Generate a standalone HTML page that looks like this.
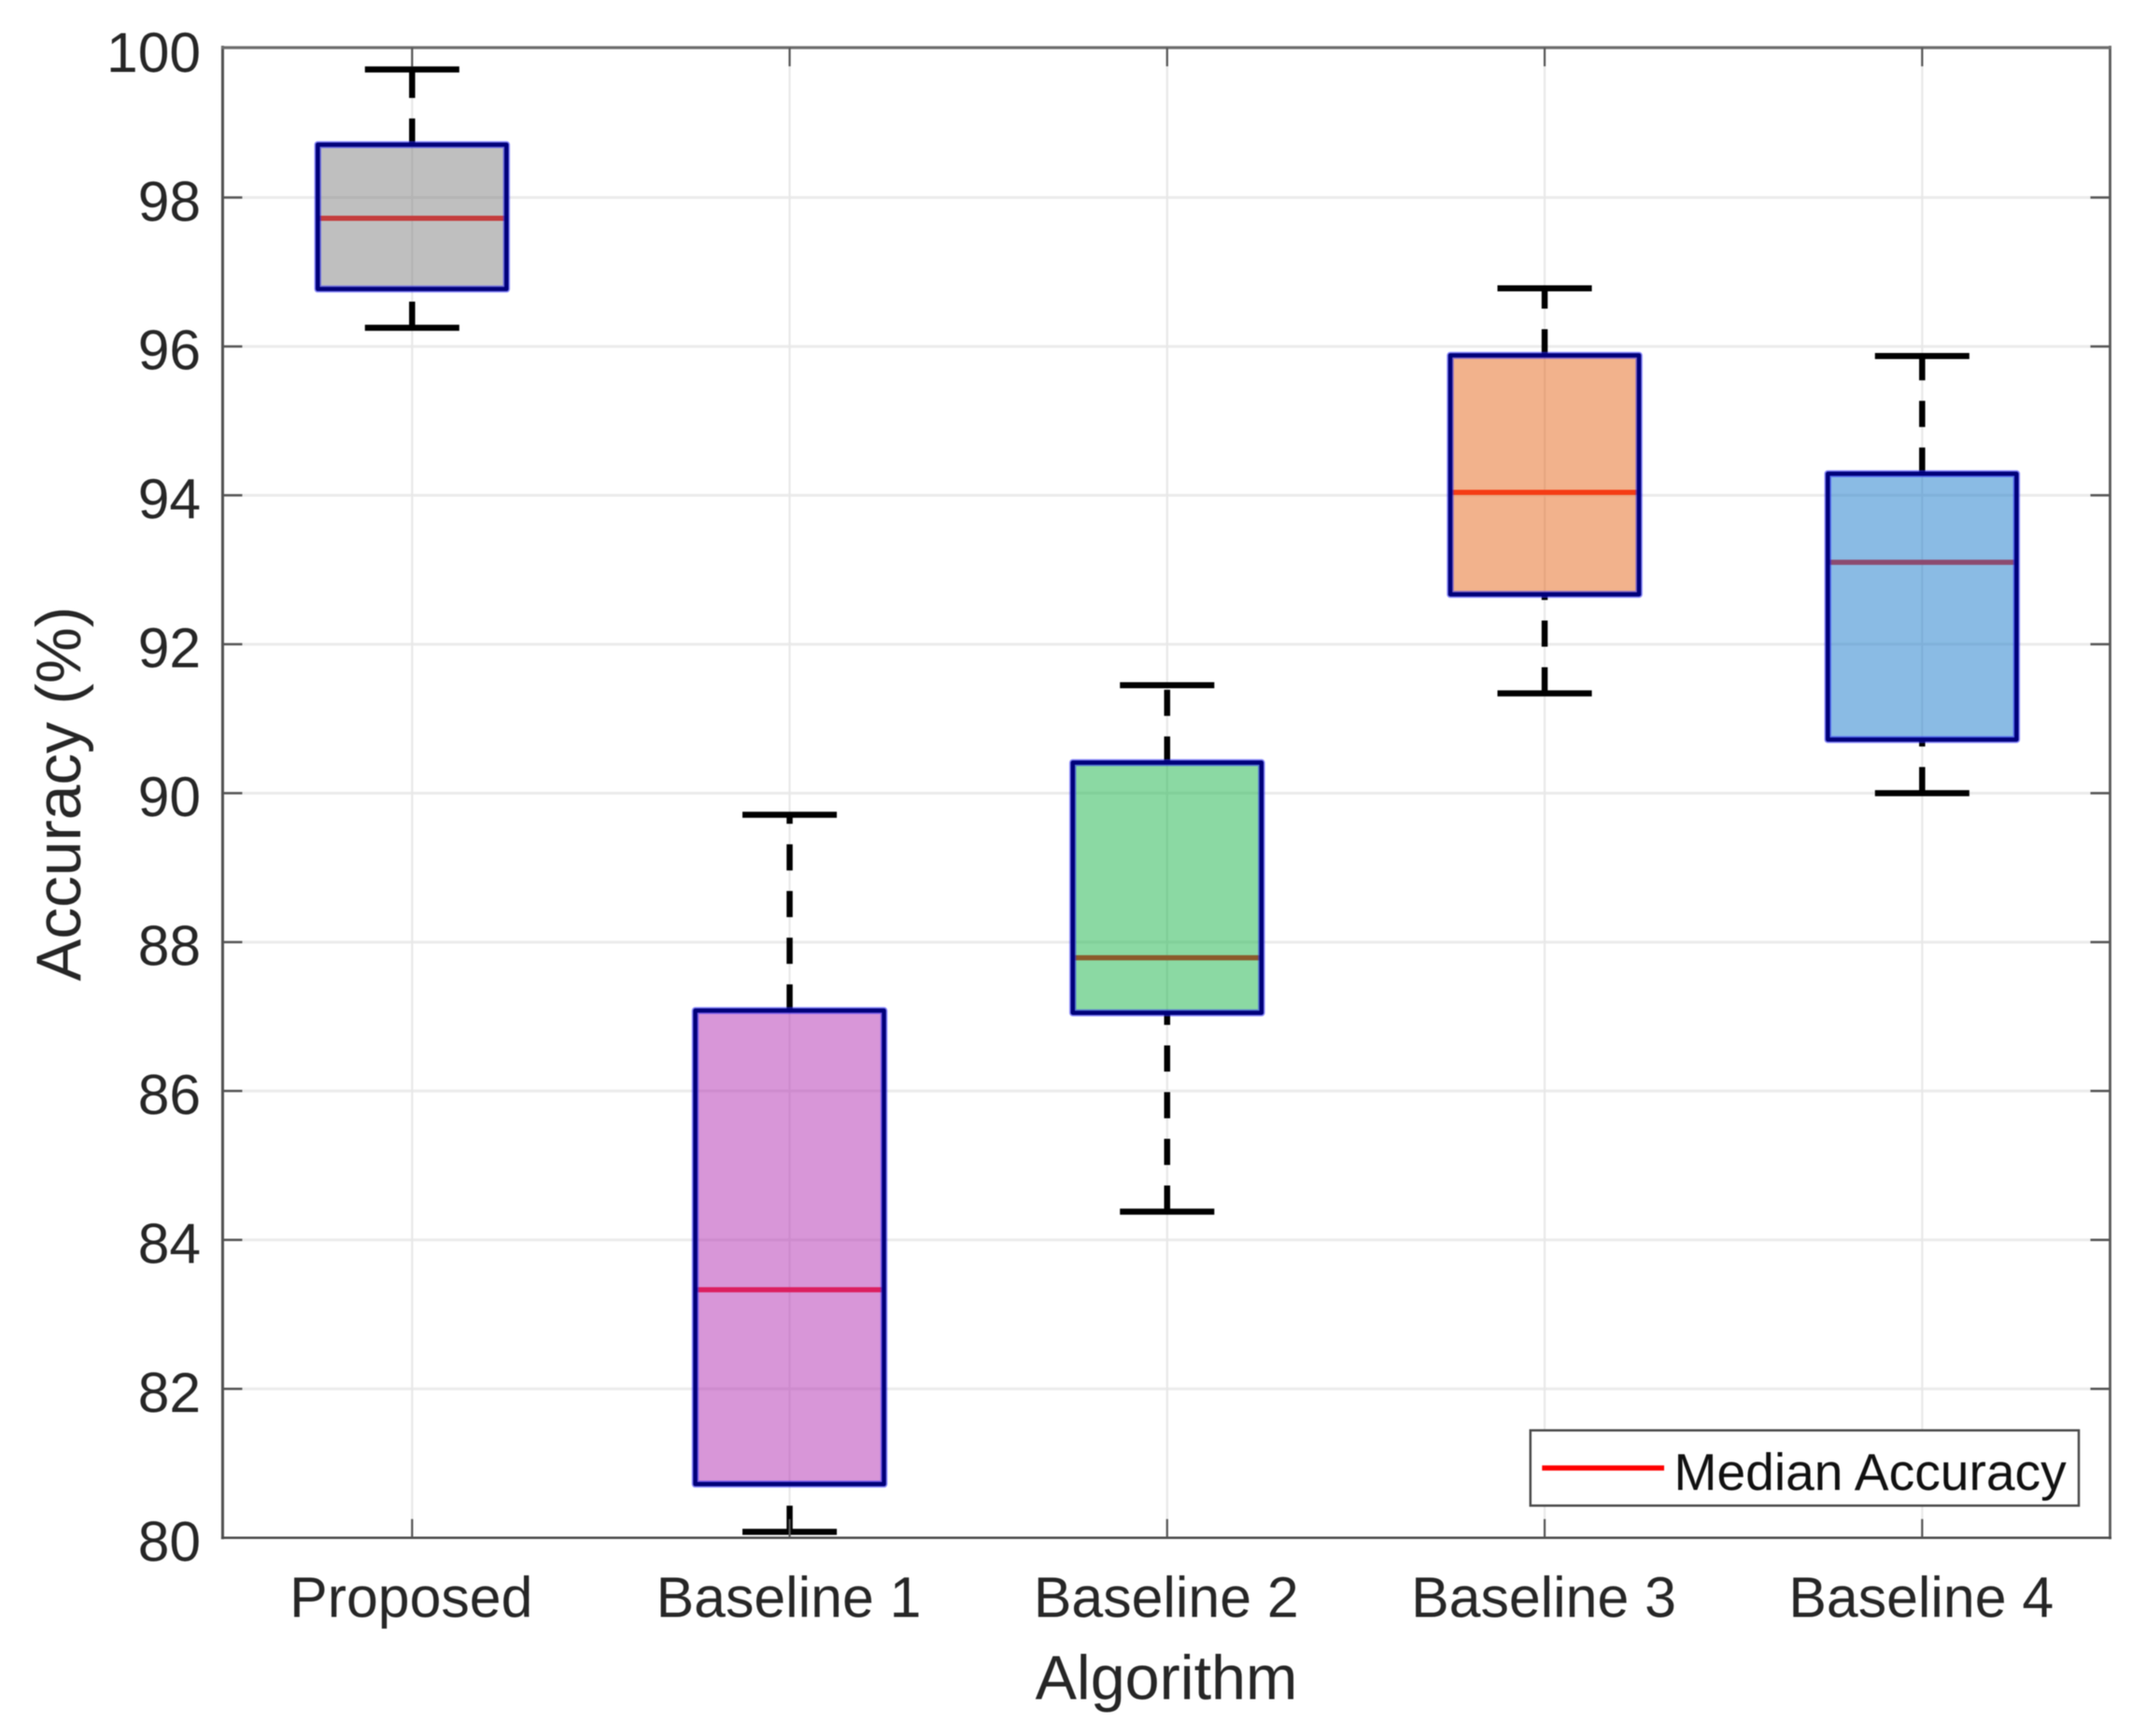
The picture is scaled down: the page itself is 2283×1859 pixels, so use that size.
<!DOCTYPE html>
<html lang="en">
<head>
<meta charset="utf-8">
<title>Accuracy by Algorithm</title>
<style>
  html, body { margin: 0; padding: 0; background: #ffffff; }
  body { width: 2283px; height: 1859px; overflow: hidden; }
  svg { display: block; filter: blur(0.6px); }
  text { font-family: "Liberation Sans", Arial, sans-serif; }
</style>
</head>
<body>
<svg id="chart" xmlns="http://www.w3.org/2000/svg" width="2283" height="1859" viewBox="0 0 2283 1859"></svg>
<script>
const categories = ['Proposed', 'Baseline 1', 'Baseline 2', 'Baseline 3', 'Baseline 4'];
const whiskerLow = [96.25, 80.08, 84.38, 91.34, 90.0];
const quartile1 = [96.77, 80.72, 87.05, 92.67, 90.72];
const medians = [97.72, 83.33, 87.79, 94.04, 93.10];
const quartile3 = [98.71, 87.08, 90.41, 95.88, 94.29];
const whiskerHigh = [99.72, 89.71, 91.45, 96.78, 95.87];
const yTicks = [80, 82, 84, 86, 88, 90, 92, 94, 96, 98, 100];
const boxFills = ['#7f7f7f', '#b12db1', '#17b347', '#e56519', '#1577c9'];
const medianColors = ['#c43c3c', '#dc1e5f', '#8b5a2b', '#f53c14', '#8c4a70'];
const xLabelText = 'Algorithm';
const yLabelText = 'Accuracy (%)';
const legendText = 'Median Accuracy';

const svg = document.getElementById('chart');
const NS = 'http://www.w3.org/2000/svg';
const plot = { left: 238.4, right: 2259.5, top: 51, bottom: 1646.7 };
const yMin = 80, yMax = 100;
const yTopPx = 52;

function xScale(position) {
  return 441.3 + (position - 1) * 404.25;
}
function yScale(value) {
  return plot.bottom - (value - yMin) * (plot.bottom - yTopPx) / (yMax - yMin);
}
function make(tag, attrs, content) {
  const el = document.createElementNS(NS, tag);
  for (const key in attrs) el.setAttribute(key, attrs[key]);
  if (content !== undefined) el.textContent = content;
  svg.appendChild(el);
  return el;
}
function hLine(x1, x2, y, stroke, width) {
  return make('line', { x1: x1, x2: x2, y1: y, y2: y, stroke: stroke, 'stroke-width': width });
}
function vLine(x, y1, y2, stroke, width) {
  return make('line', { x1: x, x2: x, y1: y1, y2: y2, stroke: stroke, 'stroke-width': width });
}

/* grid */
yTicks.forEach(function (tick) {
  if (tick === yMin || tick === yMax) return;
  const el = hLine(plot.left, plot.right, yScale(tick), '#ebebeb', 3);
  
  
});
categories.forEach(function (name, i) {
  const el = vLine(xScale(i + 1), plot.top, plot.bottom, '#e8e8e8', 2.2);
  
  
});

/* boxes */
categories.forEach(function (name, i) {
  const slug = name.toLowerCase().replace(/\s+/g, '-');
  const cx = xScale(i + 1);
  const boxL = xScale(i + 1 - 0.25);
  const boxR = xScale(i + 1 + 0.25);
  const capL = xScale(i + 1 - 0.125);
  const capR = xScale(i + 1 + 0.125);
  const yTop = yScale(quartile3[i]);
  const yBottom = yScale(quartile1[i]);

  const lowerWhisker = make('line', { x1: cx, x2: cx, y1: yScale(whiskerLow[i]), y2: yBottom, stroke: '#000', 'stroke-width': 6.5, 'stroke-dasharray': '28 22' });
  
  

  const upperWhisker = make('line', { x1: cx, x2: cx, y1: yTop, y2: yScale(whiskerHigh[i]), stroke: '#000', 'stroke-width': 6.5, 'stroke-dasharray': '28 22' });
  
  

  const lowerCap = hLine(capL, capR, yScale(whiskerLow[i]), '#000', 6.5);
  
  

  const upperCap = hLine(capL, capR, yScale(whiskerHigh[i]), '#000', 6.5);
  
  

  const fill = make('rect', { x: boxL, y: yTop, width: boxR - boxL, height: yBottom - yTop, fill: boxFills[i], 'fill-opacity': 0.5 });
  
  

  const median = hLine(boxL, boxR, yScale(medians[i]), medianColors[i], 5.5);
  
  

  const halo = make('rect', { x: boxL, y: yTop, width: boxR - boxL, height: yBottom - yTop, fill: 'none', stroke: '#2a2af5', 'stroke-opacity': 0.55, 'stroke-width': 7.5, 'stroke-linejoin': 'round' });
  
  

  const outline = make('rect', { x: boxL, y: yTop, width: boxR - boxL, height: yBottom - yTop, fill: 'none', stroke: '#00007a', 'stroke-width': 4.5, 'stroke-linejoin': 'round' });
  
  
});

/* axes frame */
const leftAxis = vLine(plot.left, plot.top - 2, plot.bottom + 1.5, '#505050', 3);


const rightAxis = vLine(plot.right, plot.top - 2, plot.bottom + 1.5, '#5a5a5a', 2.8);


const topAxis = hLine(plot.left - 1.5, plot.right + 1.5, plot.top, '#6e6e6e', 3.2);


const bottomAxis = hLine(plot.left - 1.5, plot.right + 1.5, plot.bottom, '#4a4a4a', 2.5);



/* y ticks and labels */
yTicks.forEach(function (tick) {
  const y = yScale(tick);
  if (tick !== yMin && tick !== yMax) {
    const leftTick = hLine(plot.left, plot.left + 21, y, '#555555', 2.5);
    
    
    const rightTick = hLine(plot.right - 21, plot.right, y, '#555555', 2.5);
    
    
  }
  const label = make('text', { x: 215, y: y + 24.8, 'text-anchor': 'end', 'font-size': 60.5, fill: '#262626' }, String(tick));
  
  
});

/* x ticks and labels */
categories.forEach(function (name, i) {
  const x = xScale(i + 1);
  const bottomTick = vLine(x, plot.bottom - 20, plot.bottom, '#555555', 2.2);
  
  
  const topTick = vLine(x, plot.top, plot.top + 20, '#555555', 2.2);
  
  
  const label = make('text', { x: x - 1, y: 1731.7, 'text-anchor': 'middle', 'font-size': 60.8, fill: '#262626' }, name);
  
  
});

/* axis titles */
const xTitle = make('text', { x: 1249, y: 1819.3, 'text-anchor': 'middle', 'font-size': 66.5, fill: '#262626' }, xLabelText);


const yTitle = make('text', { x: 0, y: 0, 'text-anchor': 'middle', 'font-size': 67.5, fill: '#262626', transform: 'translate(86 850) rotate(-90)' }, yLabelText);



/* legend */
const legendBox = make('rect', { x: 1638.8, y: 1531.7, width: 587.2, height: 80.6, fill: '#ffffff', stroke: '#4a4a4a', 'stroke-width': 2.5 });


const legendLine = hLine(1651.3, 1782, 1572, '#ff0000', 5.5);


const legendLabel = make('text', { x: 1792.5, y: 1595.7, 'font-size': 55.2, fill: '#111111' }, legendText);


</script>
</body>
</html>
